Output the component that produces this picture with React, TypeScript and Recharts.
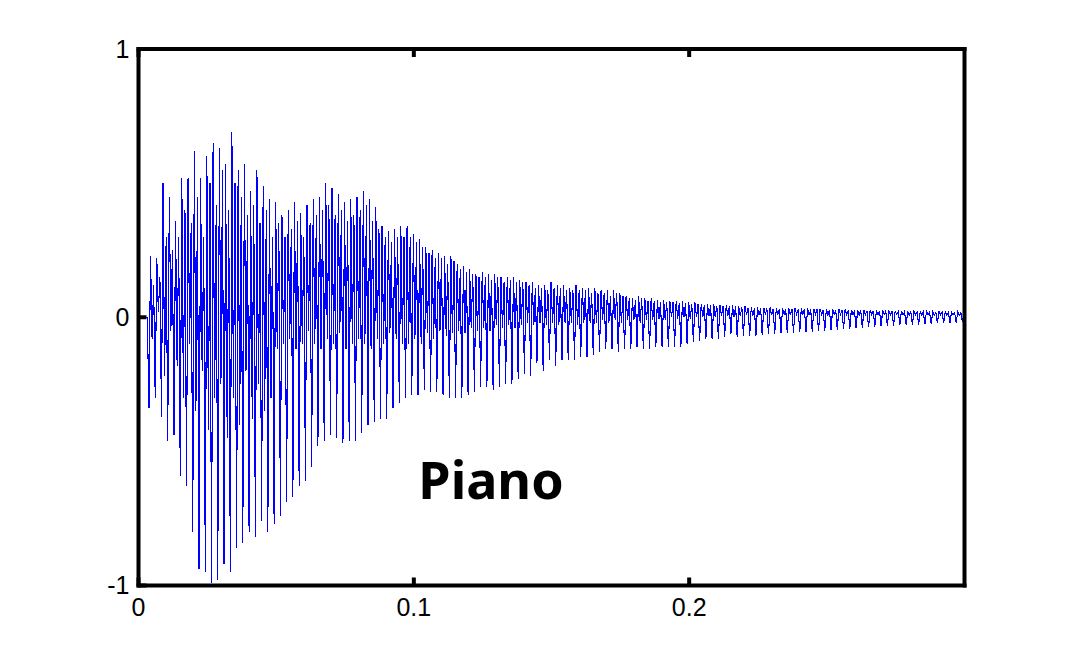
import { Line, LineChart, XAxis, YAxis } from "recharts";

// piano note, A4 (440 Hz); one entry per cycle
const F0 = 440;
const ONSET = 0.0038;
const X_TICKS = [0, 0.1, 0.2];
const Y_TICKS = [-1, 0, 1];
const CAPTION = "Piano";

const troughs = [
  -0.34, -0.3, -0.37, -0.46, -0.44, -0.59, -0.63, -0.8, -0.94, -0.95,
  -0.99, -0.98, -0.92, -0.95, -0.86, -0.84, -0.8, -0.82, -0.76, -0.8,
  -0.77, -0.74, -0.69, -0.67, -0.63, -0.61, -0.56, -0.48, -0.46, -0.44,
  -0.45, -0.47, -0.46, -0.46, -0.43, -0.4, -0.39, -0.38, -0.38, -0.34,
  -0.32, -0.3, -0.29, -0.29, -0.27, -0.28, -0.28, -0.29, -0.3, -0.3,
  -0.3, -0.29, -0.28, -0.26, -0.26, -0.27, -0.26, -0.25, -0.25, -0.23,
  -0.21, -0.22, -0.17, -0.2, -0.16, -0.18, -0.16, -0.16, -0.16, -0.15,
  -0.15, -0.14, -0.13, -0.12, -0.12, -0.13, -0.12, -0.12, -0.11, -0.12,
  -0.12, -0.11, -0.11, -0.11, -0.11, -0.11, -0.1, -0.093, -0.09, -0.082,
  -0.082, -0.08, -0.075, -0.063, -0.075, -0.07, -0.07, -0.068, -0.066, -0.064,
  -0.062, -0.06, -0.058, -0.057, -0.056, -0.055, -0.053, -0.052, -0.05, -0.048,
  -0.046, -0.045, -0.043, -0.041, -0.04, -0.038, -0.036, -0.033, -0.032, -0.031,
  -0.03, -0.029, -0.028, -0.027, -0.026, -0.025, -0.023, -0.022, -0.021, -0.02,
  -0.018,
];

const peaks = [
  0.23, 0.22, 0.5, 0.45, 0.36, 0.52, 0.52, 0.62, 0.52, 0.6,
  0.65, 0.63, 0.57, 0.69, 0.55, 0.57, 0.47, 0.55, 0.49, 0.44,
  0.43, 0.38, 0.4, 0.43, 0.39, 0.42, 0.44, 0.45, 0.5, 0.48,
  0.46, 0.43, 0.44, 0.45, 0.47, 0.44, 0.41, 0.34, 0.32, 0.33,
  0.34, 0.34, 0.31, 0.29, 0.26, 0.25, 0.24, 0.23, 0.23, 0.2,
  0.19, 0.18, 0.16, 0.17, 0.16, 0.16, 0.15, 0.15, 0.15, 0.14,
  0.13, 0.13, 0.12, 0.12, 0.13, 0.12, 0.12, 0.11, 0.12, 0.11,
  0.11, 0.11, 0.1, 0.1, 0.1, 0.09, 0.08, 0.07, 0.08, 0.07,
  0.07, 0.065, 0.063, 0.06, 0.06, 0.06, 0.055, 0.055, 0.05, 0.05,
  0.048, 0.047, 0.045, 0.044, 0.04, 0.04, 0.038, 0.037, 0.036, 0.036,
  0.035, 0.035, 0.034, 0.034, 0.033, 0.033, 0.032, 0.032, 0.031, 0.03,
  0.03, 0.029, 0.028, 0.028, 0.027, 0.026, 0.026, 0.025, 0.025, 0.024,
  0.024, 0.023, 0.023, 0.022, 0.022, 0.021, 0.021, 0.02, 0.02, 0.019,
  0.018,
];

const dips = [
  -0.08, 0.02, -0.22, -0.05, -0.18, -0.3, -0.1, -0.35, -0.2, -0.42,
  -0.3, -0.25, -0.45, -0.3, -0.4, -0.2, -0.38, -0.25, -0.35, -0.3,
  -0.12, -0.1, -0.08, -0.12, -0.1, -0.05, -0.1, -0.12, -0.08, -0.1,
  -0.06, -0.12, -0.1, -0.08, -0.1, -0.12, -0.08, -0.1, -0.06, -0.08,
  -0.1, -0.1, -0.08, -0.1, -0.06, -0.08, -0.05, -0.07, -0.06, -0.05,
  -0.06, -0.04, -0.05, -0.04, -0.05, -0.03, -0.04, -0.03, -0.04, -0.03,
  -0.02, -0.03, -0.02, -0.03, -0.02, -0.03, -0.02, -0.02, -0.03, -0.02,
  -0.02, -0.02, -0.01, -0.02, -0.01, -0.02, -0.01, -0.01, -0.02, -0.01,
  -0.01, -0.005, -0.01, 0, -0.005, 0, -0.005, 0, 0, 0.005,
  0, 0.005, 0.005, 0, 0.005, 0.008, 0.005, 0.008, 0.01, 0.008,
  0.01, 0.01, 0.008, 0.01, 0.01, 0.008, 0.01, 0.01, 0.008, 0.01,
  0.01, 0.01, 0.01, 0.008, 0.01, 0.01, 0.008, 0.01, 0.008, 0.01,
  0.008, 0.008, 0.01, 0.008, 0.008, 0.008, 0.01, 0.008, 0.008, 0.006,
  0.006,
];

const subPeaks = [
  0.12, 0.15, 0.3, 0.25, 0.3, 0.4, 0.35, 0.45, 0.3, 0.5,
  0.42, 0.55, 0.4, 0.5, 0.45, 0.38, 0.42, 0.35, 0.4, 0.3,
  0.35, 0.3, 0.33, 0.36, 0.3, 0.35, 0.38, 0.4, 0.42, 0.38,
  0.4, 0.36, 0.38, 0.4, 0.42, 0.36, 0.33, 0.3, 0.28, 0.3,
  0.3, 0.3, 0.28, 0.26, 0.24, 0.22, 0.22, 0.2, 0.21, 0.18,
  0.17, 0.16, 0.15, 0.15, 0.14, 0.15, 0.13, 0.14, 0.13, 0.13,
  0.12, 0.11, 0.11, 0.1, 0.11, 0.11, 0.1, 0.1, 0.1, 0.1,
  0.09, 0.09, 0.09, 0.08, 0.09, 0.08, 0.07, 0.065, 0.07, 0.06,
  0.06, 0.058, 0.056, 0.055, 0.052, 0.054, 0.05, 0.048, 0.046, 0.045,
  0.043, 0.042, 0.04, 0.04, 0.036, 0.036, 0.034, 0.034, 0.033, 0.032,
  0.032, 0.031, 0.031, 0.03, 0.03, 0.029, 0.029, 0.028, 0.028, 0.027,
  0.027, 0.026, 0.025, 0.025, 0.024, 0.024, 0.023, 0.023, 0.022, 0.022,
  0.021, 0.021, 0.02, 0.02, 0.019, 0.019, 0.018, 0.018, 0.017, 0.017,
  0.016,
];

// 4 samples per cycle: trough, peak, dip, second peak
const SAMPLE_RATE = F0 * 4;
const samples = [
  { t: 0, v: 0 },
  { t: ONSET - 0.0006, v: 0 },
  ...troughs.flatMap((lo, k) =>
    [lo, peaks[k], dips[k], subPeaks[k]].map((v, j) => ({
      t: ONSET + (4 * k + j) / SAMPLE_RATE,
      v,
    }))
  ),
];

const frame = { stroke: "#000", strokeWidth: 4, strokeLinecap: "square" as const };
const tickLine = { stroke: "#000", strokeWidth: 4 };
const tickFont = { fill: "#000", fontSize: 25, fontFamily: "Liberation Sans, Arial, sans-serif" };
const blank = () => "";

export default function App() {
  return (
    <div style={{ position: "absolute", left: 0, top: 0, width: 1065, height: 660, background: "#fff" }}>
      <LineChart
        width={1065}
        height={660}
        data={samples}
        margin={{ top: 48, right: 99.5, bottom: 44.5, left: 98.5 }}
        style={{ fontSize: 25, fontFamily: "Liberation Sans, Arial, sans-serif" }}
      >
        <XAxis
          xAxisId="b"
          dataKey="t"
          type="number"
          domain={[0, 0.3]}
          allowDataOverflow
          ticks={X_TICKS}
          interval={0}
          tickFormatter={(v) => String(v)}
          tickSize={-8}
          tickMargin={21}
          axisLine={frame}
          tickLine={tickLine}
          tick={tickFont}
          height={30}
        />
        <XAxis
          xAxisId="t"
          orientation="top"
          dataKey="t"
          type="number"
          domain={[0, 0.3]}
          allowDataOverflow
          ticks={X_TICKS}
          interval={0}
          tickFormatter={blank}
          tickSize={-8}
          axisLine={frame}
          tickLine={tickLine}
          height={1}
        />
        <YAxis
          yAxisId="l"
          type="number"
          domain={[-1, 1]}
          ticks={Y_TICKS}
          interval={0}
          tickSize={-8}
          tickMargin={17}
          axisLine={frame}
          tickLine={tickLine}
          tick={tickFont}
          width={40}
        />
        <YAxis
          yAxisId="r"
          orientation="right"
          type="number"
          domain={[-1, 1]}
          ticks={Y_TICKS}
          interval={0}
          tickFormatter={blank}
          tickSize={-8}
          axisLine={frame}
          tickLine={tickLine}
          width={1}
        />
        <Line
          xAxisId="b"
          yAxisId="l"
          dataKey="v"
          type="linear"
          stroke="#0000ff"
          strokeWidth={1.1}
          shapeRendering="crispEdges"
          dot={false}
          activeDot={false}
          isAnimationActive={false}
        />
      </LineChart>
      <svg
        width={1065}
        height={660}
        style={{ position: "absolute", left: 0, top: 0, pointerEvents: "none" }}
      >
        <text
          x={491}
          y={499}
          textAnchor="middle"
          fontFamily="Noto Sans, sans-serif"
          fontWeight="bold"
          fontSize={52}
          fill="#000"
        >
          {CAPTION}
        </text>
      </svg>
    </div>
  );
}
